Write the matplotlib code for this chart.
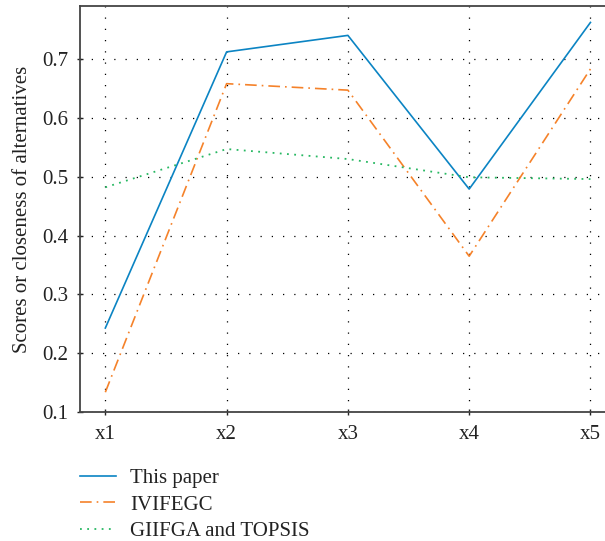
import matplotlib
matplotlib.use("Agg")
import matplotlib.pyplot as plt

# data
alternatives = ["x1", "x2", "x3", "x4", "x5"]
this_paper = [0.243, 0.712, 0.740, 0.479, 0.762]
ivifegc = [0.134, 0.658, 0.647, 0.365, 0.683]
giifga_topsis = [0.482, 0.547, 0.530, 0.499, 0.496]
y_ticks = [0.1, 0.2, 0.3, 0.4, 0.5, 0.6, 0.7]

plt.rcParams["font.family"] = ["Liberation Serif", "DejaVu Serif"]

fig = plt.figure(figsize=(6.05, 5.41), dpi=100)
ax = fig.add_axes([0.132, 0.238, 0.868, 0.751])

pos = list(range(1, len(alternatives) + 1))
ax.plot(pos, this_paper, color="#0b84c3", lw=1.2, label="This paper")
ax.plot(pos, ivifegc, color="#f5822a", lw=1.2, linestyle=(0, (7, 3, 1, 3)), label="IVIFEGC")
ax.plot(pos, giifga_topsis, color="#27b862", lw=1.3, linestyle=(0, (1, 3)), label="GIIFGA and TOPSIS")

ax.set_xlim(0.79, 5.12)
ax.set_ylim(0.1, 0.79)
ax.set_xticks(pos)
ax.set_xticklabels(alternatives)
ax.set_yticks(y_ticks)
ax.set_yticklabels([f"{v:.1f}" for v in y_ticks])
ax.tick_params(labelsize=15, length=4, width=1, direction="inout", colors="#222222")
ax.tick_params(axis="x", pad=7)
ax.tick_params(axis="y", pad=6)
ax.set_ylabel("Scores or closeness of alternatives", fontsize=15, color="#222222", labelpad=8)

ax.grid(True, color="black", linestyle=(0, (1, 8)), linewidth=0.9)
ax.set_axisbelow(True)
for side in ["left", "bottom", "top"]:
    ax.spines[side].set_linewidth(1.3)
    ax.spines[side].set_color("#444444")
ax.spines["right"].set_visible(False)

fig.legend(loc="upper left", bbox_to_anchor=(0.119, 0.149), frameon=False,
           fontsize=15, handlelength=1.7, handletextpad=0.7, labelspacing=0.32,
           borderaxespad=0, labelcolor="#222222")

fig.savefig("out.png", dpi=100)
